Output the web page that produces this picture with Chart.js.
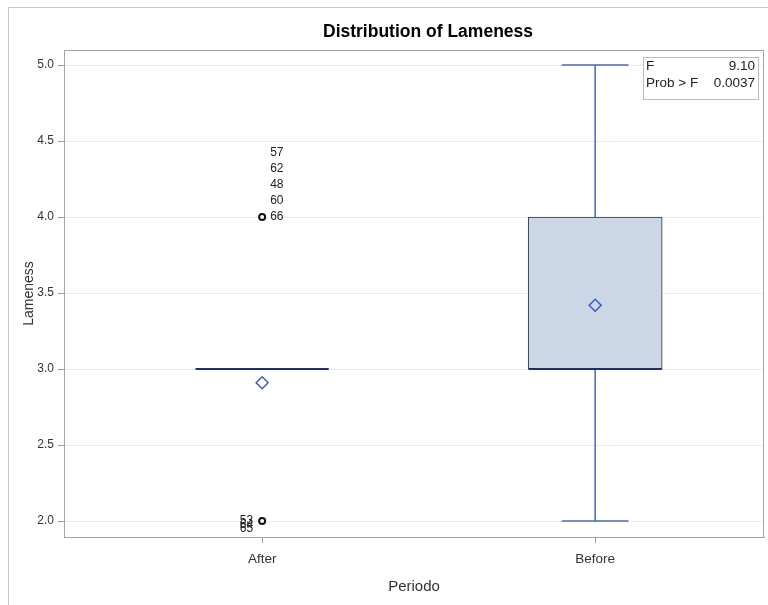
<!DOCTYPE html>
<html>
<head>
<meta charset="utf-8">
<script src="https://cdn.jsdelivr.net/npm/chart.js@4.4.0/dist/chart.umd.min.js"></script>
<style>
html, body { margin: 0; padding: 0; background: #fff; overflow: hidden; }
#frame { position: absolute; left: 8px; top: 7px; width: 838px; height: 620px; border: 1px solid #c8c8c8; }
canvas { display: block; }
</style>
</head>
<body>
<div id="frame"><canvas id="canvas" width="838" height="597"></canvas></div>
<script>
// box plot summary per period
const periods = ['After', 'Before'];
const q1 = [3, 3];
const q3 = [3, 4];
const medians = [3, 3];
const means = [2.91, 3.42];
const whiskerLow = [3, 2];
const whiskerHigh = [3, 5];

// outliers and their id labels
const outlierPeriod = ['After', 'After'];
const outlierValues = [4, 2];
const outlierIds = [['66', '60', '48', '62', '57'], ['53', '64', '65']];

const yTicks = [2.0, 2.5, 3.0, 3.5, 4.0, 4.5, 5.0];
const statLabels = ['F', 'Prob > F'];
const statValues = ['9.10', '0.0037'];

const FONT = "'Liberation Sans', Arial, sans-serif";

// build datasets from the arrays
const boxData = periods.map((p, i) => ({ x: i + 1, y: [q1[i], q3[i]] }));
const whiskerData = [];
periods.forEach((p, i) => {
    const x = i + 1;
    if (whiskerHigh[i] > q3[i]) {
        whiskerData.push({ x: x, y: q3[i] }, { x: x, y: whiskerHigh[i] }, { x: x, y: null });
        whiskerData.push({ x: x - 0.1, y: whiskerHigh[i] }, { x: x + 0.1, y: whiskerHigh[i] }, { x: x, y: null });
    }
    if (whiskerLow[i] < q1[i]) {
        whiskerData.push({ x: x, y: q1[i] }, { x: x, y: whiskerLow[i] }, { x: x, y: null });
        whiskerData.push({ x: x - 0.1, y: whiskerLow[i] }, { x: x + 0.1, y: whiskerLow[i] }, { x: x, y: null });
    }
});
const medianData = [];
periods.forEach((p, i) => {
    medianData.push({ x: i + 0.8, y: medians[i] }, { x: i + 1.2, y: medians[i] }, { x: i + 1, y: null });
});
const meanData = periods.map((p, i) => ({ x: i + 1, y: means[i] }));
const outlierData = outlierValues.map((v, i) => ({ x: periods.indexOf(outlierPeriod[i]) + 1, y: v }));

const plotFrame = {
    id: 'plotFrame',
    afterDraw(chart) {
        const a = chart.chartArea, ctx = chart.ctx;
        ctx.save();
        ctx.strokeStyle = '#a6a6a6';
        ctx.lineWidth = 1;
        ctx.strokeRect(a.left + 0.5, a.top + 0.5, a.right - a.left - 1, a.bottom - a.top);
        ctx.restore();
    }
};

const titlePlugin = {
    id: 'titleText',
    afterDraw(chart) {
        const ctx = chart.ctx;
        ctx.save();
        ctx.font = 'bold 17.5px ' + FONT;
        ctx.fillStyle = '#000';
        ctx.textAlign = 'center';
        ctx.textBaseline = 'middle';
        ctx.fillText('Distribution of Lameness', chart.width / 2, 24);
        ctx.restore();
    }
};

const outlierLabels = {
    id: 'outlierLabels',
    afterDatasetsDraw(chart) {
        const xs = chart.scales.x, ys = chart.scales.y, ctx = chart.ctx;
        const layout = [{ side: 'right', step: -16 }, { side: 'left', step: 4 }];
        ctx.save();
        ctx.font = '12px ' + FONT;
        ctx.fillStyle = '#222';
        ctx.textBaseline = 'middle';
        outlierValues.forEach((v, i) => {
            const px = xs.getPixelForValue(periods.indexOf(outlierPeriod[i]) + 1);
            const py = ys.getPixelForValue(v);
            const l = layout[i];
            ctx.textAlign = l.side === 'right' ? 'left' : 'right';
            const tx = l.side === 'right' ? px + 8 : px - 9;
            outlierIds[i].forEach((id, j) => {
                ctx.fillText(id, tx, py + j * l.step);
            });
        });
        ctx.restore();
    }
};

const statBox = {
    id: 'statBox',
    afterDraw(chart) {
        const a = chart.chartArea, ctx = chart.ctx;
        const w = 115, h = 42;
        const x0 = a.right - 6 - w, y0 = a.top + 7;
        ctx.save();
        ctx.fillStyle = '#fff';
        ctx.fillRect(x0, y0, w, h);
        ctx.strokeStyle = '#bdbdbd';
        ctx.strokeRect(x0 + 0.5, y0 + 0.5, w, h);
        ctx.font = '13.5px ' + FONT;
        ctx.fillStyle = '#222';
        ctx.textBaseline = 'middle';
        statLabels.forEach((lab, i) => {
            const ty = y0 + 9 + i * 17;
            ctx.textAlign = 'left';
            ctx.fillText(lab, x0 + 3, ty);
            ctx.textAlign = 'right';
            ctx.fillText(statValues[i], x0 + w - 3, ty);
        });
        ctx.restore();
    }
};

const ctx = document.getElementById('canvas').getContext('2d');
const myChart = new Chart(ctx, {
    type: 'bar',
    data: {
        datasets: [{
            type: 'bar',
            data: boxData,
            backgroundColor: '#cbd6e6',
            borderColor: '#303030',
            borderWidth: 1,
            borderSkipped: false,
            barThickness: 134,
            order: 5
        }, {
            type: 'line',
            data: whiskerData,
            borderColor: '#4a68b2',
            borderWidth: 1.5,
            pointRadius: 0,
            spanGaps: false,
            order: 4
        }, {
            type: 'line',
            data: medianData,
            borderColor: '#1d2f6b',
            borderWidth: 2,
            pointRadius: 0,
            spanGaps: false,
            order: 2
        }, {
            type: 'scatter',
            data: meanData,
            pointStyle: 'rectRot',
            pointRadius: 6,
            borderColor: '#3b5cb8',
            borderWidth: 1.5,
            backgroundColor: 'rgba(0,0,0,0)',
            order: 1
        }, {
            type: 'scatter',
            data: outlierData,
            pointStyle: 'circle',
            pointRadius: 3,
            borderColor: '#111',
            borderWidth: 2,
            backgroundColor: '#fff',
            order: 1
        }]
    },
    options: {
        responsive: false,
        animation: false,
        layout: { padding: { top: 42, right: 83, bottom: 0, left: 0 } },
        plugins: { legend: { display: false }, tooltip: { enabled: false } },
        scales: {
            x: {
                type: 'linear',
                min: 0.405,
                max: 2.507,
                offset: false,
                afterBuildTicks: s => { s.ticks = periods.map((p, i) => ({ value: i + 1 })); },
                afterFit: s => { s.height = 68; },
                ticks: {
                    callback: v => periods[v - 1],
                    font: { family: FONT, size: 13.5 },
                    color: '#333',
                    padding: 8,
                    maxRotation: 0
                },
                grid: { drawOnChartArea: false, offset: false, tickLength: 6, tickColor: '#9a9a9a' },
                border: { color: '#a6a6a6' },
                title: { display: true, text: 'Periodo', font: { family: FONT, size: 15 }, color: '#333', padding: { top: 0, bottom: 9 } }
            },
            y: {
                min: 1.895,
                max: 5.099,
                beginAtZero: false,
                afterBuildTicks: s => { s.ticks = yTicks.map(v => ({ value: v })); },
                afterFit: s => { s.width = 55; },
                ticks: {
                    callback: v => v.toFixed(1),
                    font: { family: FONT, size: 12 },
                    color: '#333',
                    padding: 4
                },
                grid: { color: '#ebebeb', tickLength: 6, tickColor: '#9a9a9a' },
                border: { color: '#a6a6a6' },
                title: { display: true, text: 'Lameness', font: { family: FONT, size: 14 }, color: '#333', padding: { top: 12, bottom: 0 } }
            }
        }
    },
    plugins: [plotFrame, titlePlugin, outlierLabels, statBox]
});
</script>
</body>
</html>
